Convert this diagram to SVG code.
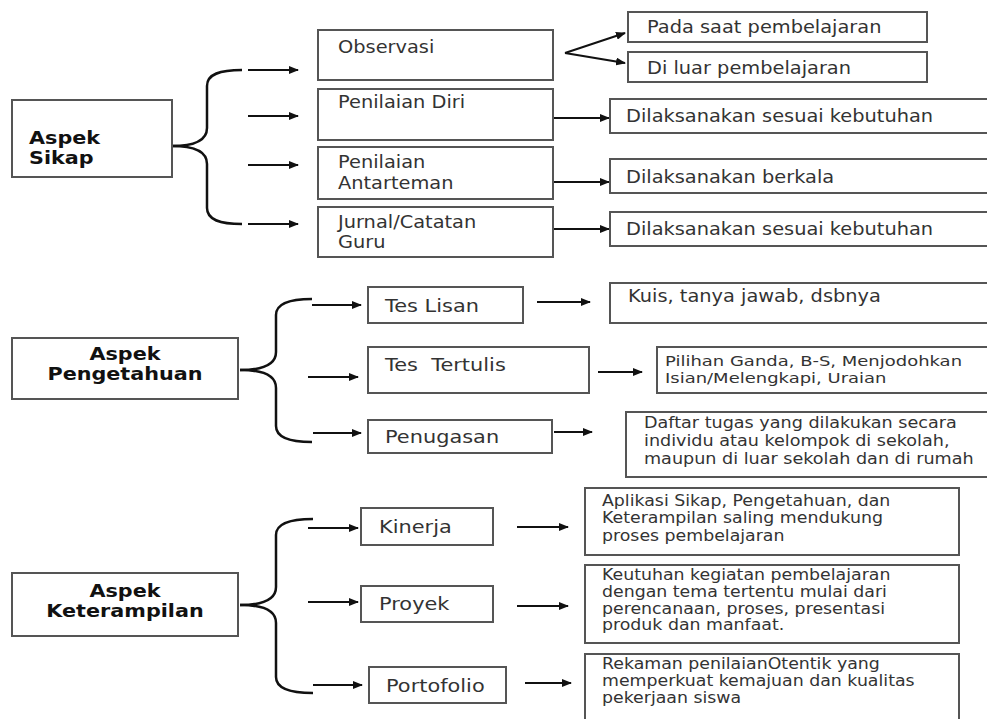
<svg xmlns="http://www.w3.org/2000/svg" width="987" height="719" viewBox="0 0 987 719">
<style>
.box{fill:#fff;stroke:#555;stroke-width:2}
.t{font-family:"DejaVu Sans",Verdana,sans-serif;fill:#333}
.s16{font-size:17px}
.s17{font-size:18.5px}
.s15{font-size:16px}
.s14{font-size:15.5px}
.s13{font-size:14.5px}
.b{font-family:"DejaVu Sans",Verdana,sans-serif;font-weight:bold;font-size:17px;fill:#111}
.br{fill:none;stroke:#111;stroke-width:2.5}
.ar{fill:none;stroke:#111;stroke-width:2;marker-end:url(#ah)}
</style>
<defs>
<marker id="ah" markerWidth="10" markerHeight="8" refX="9" refY="4" orient="auto" markerUnits="userSpaceOnUse">
<path d="M0,0 L10,4 L0,8 Z" fill="#111"/>
</marker>
</defs>
<rect width="987" height="719" fill="#fff"/>

<g id="connectors">
<path class="br" d="M172,146 C192,146 207,142 207,128 L207,86 C207,74 220,70 242,70"/>
<path class="br" d="M172,146 C192,146 207,150 207,164 L207,208 C207,220 220,224 242,224"/>
<path class="br" d="M240,370 C260,370 276,366 276,352 L276,315 C276,304 288,299 312,299"/>
<path class="br" d="M240,370 C260,370 276,374 276,388 L276,426 C276,437 288,442 312,442"/>
<path class="br" d="M240,605 C260,605 276,601 276,587 L276,535 C276,524 288,519 313,519"/>
<path class="br" d="M240,605 C260,605 276,609 276,623 L276,677 C276,688 288,693 313,693"/>

<path class="ar" d="M248,70 H298"/>
<path class="ar" d="M248,116 H298"/>
<path class="ar" d="M248,165 H298"/>
<path class="ar" d="M248,224 H298"/>
<path class="ar" d="M565,53 L625,33"/>
<path class="ar" d="M565,53 L625,63"/>
<path class="ar" d="M553,118 H609"/>
<path class="ar" d="M553,182 H609"/>
<path class="ar" d="M553,229 H609"/>

<path class="ar" d="M312,305 H361"/>
<path class="ar" d="M308,377 H358"/>
<path class="ar" d="M313,433 H361"/>
<path class="ar" d="M537,302 H590"/>
<path class="ar" d="M598,372 H642"/>
<path class="ar" d="M554,432 H592"/>

<path class="ar" d="M308,528 H358"/>
<path class="ar" d="M308,602 H358"/>
<path class="ar" d="M313,685 H362"/>
<path class="ar" d="M517,527 H568"/>
<path class="ar" d="M517,606 H568"/>
<path class="ar" d="M525,683 H571"/>
</g>

<g id="aspek-sikap">
<rect class="box" x="12" y="100" width="160" height="77"/>
<text class="b" transform="translate(29,144) scale(1.22,1)"><tspan x="0">Aspek</tspan><tspan x="0" dy="20">Sikap</tspan></text>
</g>
<g id="observasi">
<rect class="box" x="318" y="30" width="235" height="50"/>
<text class="t s16" transform="translate(338,53) scale(1.14,1)">Observasi</text>
</g>
<g id="pada-saat">
<rect class="box" x="628" y="12" width="299" height="30"/>
<text class="t s16" transform="translate(647,33) scale(1.14,1)">Pada saat pembelajaran</text>
</g>
<g id="di-luar">
<rect class="box" x="628" y="52" width="299" height="30"/>
<text class="t s16" transform="translate(647,74) scale(1.14,1)">Di luar pembelajaran</text>
</g>
<g id="penilaian-diri">
<rect class="box" x="318" y="89" width="235" height="51"/>
<text class="t s16" transform="translate(338,108) scale(1.14,1)">Penilaian Diri</text>
</g>
<g id="penilaian-diri-ket">
<rect class="box" x="610" y="99" width="390" height="34"/>
<text class="t s16" transform="translate(626,122) scale(1.14,1)">Dilaksanakan sesuai kebutuhan</text>
</g>
<g id="antarteman">
<rect class="box" x="318" y="147" width="235" height="52"/>
<text class="t s16" transform="translate(338,168) scale(1.14,1)"><tspan x="0">Penilaian</tspan><tspan x="0" dy="21">Antarteman</tspan></text>
</g>
<g id="antarteman-ket">
<rect class="box" x="610" y="159" width="390" height="34"/>
<text class="t s16" transform="translate(626,183) scale(1.14,1)">Dilaksanakan berkala</text>
</g>
<g id="jurnal">
<rect class="box" x="318" y="207" width="235" height="50"/>
<text class="t s16" transform="translate(338,228) scale(1.14,1)"><tspan x="0">Jurnal/Catatan</tspan><tspan x="0" dy="20">Guru</tspan></text>
</g>
<g id="jurnal-ket">
<rect class="box" x="610" y="212" width="390" height="34"/>
<text class="t s16" transform="translate(626,235) scale(1.14,1)">Dilaksanakan sesuai kebutuhan</text>
</g>

<g id="aspek-pengetahuan">
<rect class="box" x="12" y="338" width="226" height="61"/>
<text class="b" text-anchor="middle" transform="translate(125,360) scale(1.22,1)"><tspan x="0">Aspek</tspan><tspan x="0" dy="20">Pengetahuan</tspan></text>
</g>
<g id="tes-lisan">
<rect class="box" x="368" y="287" width="155" height="36"/>
<text class="t s17" transform="translate(385,312) scale(1.13,1)">Tes Lisan</text>
</g>
<g id="tes-lisan-ket">
<rect class="box" x="610" y="283" width="390" height="40"/>
<text class="t s16" transform="translate(628,302) scale(1.14,1)">Kuis, tanya jawab, dsbnya</text>
</g>
<g id="tes-tertulis">
<rect class="box" x="368" y="347" width="221" height="46"/>
<text class="t s17" transform="translate(385,371) scale(1.13,1)">Tes&#160; Tertulis</text>
</g>
<g id="tes-tertulis-ket">
<rect class="box" x="657" y="347" width="340" height="46"/>
<text class="t s13" transform="translate(665,366) scale(1.24,1)"><tspan x="0">Pilihan Ganda, B-S, Menjodohkan</tspan><tspan x="0" dy="17">Isian/Melengkapi, Uraian</tspan></text>
</g>
<g id="penugasan">
<rect class="box" x="368" y="420" width="184" height="33"/>
<text class="t s17" transform="translate(385,443) scale(1.13,1)">Penugasan</text>
</g>
<g id="penugasan-ket">
<rect class="box" x="626" y="412" width="370" height="65"/>
<text class="t s15" transform="translate(644,428) scale(1.1,1)"><tspan x="0">Daftar tugas yang dilakukan secara</tspan><tspan x="0" dy="18">individu atau kelompok di sekolah,</tspan><tspan x="0" dy="18">maupun di luar sekolah dan di rumah</tspan></text>
</g>

<g id="aspek-keterampilan">
<rect class="box" x="12" y="573" width="226" height="63"/>
<text class="b" text-anchor="middle" transform="translate(125,597) scale(1.22,1)"><tspan x="0">Aspek</tspan><tspan x="0" dy="20">Keterampilan</tspan></text>
</g>
<g id="kinerja">
<rect class="box" x="361" y="508" width="132" height="37"/>
<text class="t s17" transform="translate(379,533) scale(1.13,1)">Kinerja</text>
</g>
<g id="kinerja-ket">
<rect class="box" x="585" y="488" width="374" height="67"/>
<text class="t s14" transform="translate(602,506) scale(1.12,1)"><tspan x="0">Aplikasi Sikap, Pengetahuan, dan</tspan><tspan x="0" dy="17.5">Keterampilan saling mendukung</tspan><tspan x="0" dy="17.5">proses  pembelajaran</tspan></text>
</g>
<g id="proyek">
<rect class="box" x="361" y="586" width="132" height="36"/>
<text class="t s17" transform="translate(379,610) scale(1.13,1)">Proyek</text>
</g>
<g id="proyek-ket">
<rect class="box" x="585" y="565" width="374" height="78"/>
<text class="t s14" transform="translate(602,580) scale(1.12,1)"><tspan x="0">Keutuhan kegiatan pembelajaran</tspan><tspan x="0" dy="16.8">dengan tema tertentu mulai dari</tspan><tspan x="0" dy="16.8">perencanaan, proses, presentasi</tspan><tspan x="0" dy="16.8">produk dan manfaat.</tspan></text>
</g>
<g id="portofolio">
<rect class="box" x="369" y="667" width="137" height="36"/>
<text class="t s17" transform="translate(386,692) scale(1.13,1)">Portofolio</text>
</g>
<g id="portofolio-ket">
<rect class="box" x="585" y="654" width="374" height="75"/>
<text class="t s14" transform="translate(602,669) scale(1.12,1)"><tspan x="0">Rekaman penilaianOtentik yang</tspan><tspan x="0" dy="16.8">memperkuat kemajuan dan kualitas</tspan><tspan x="0" dy="16.8">pekerjaan siswa</tspan></text>
</g>
</svg>
